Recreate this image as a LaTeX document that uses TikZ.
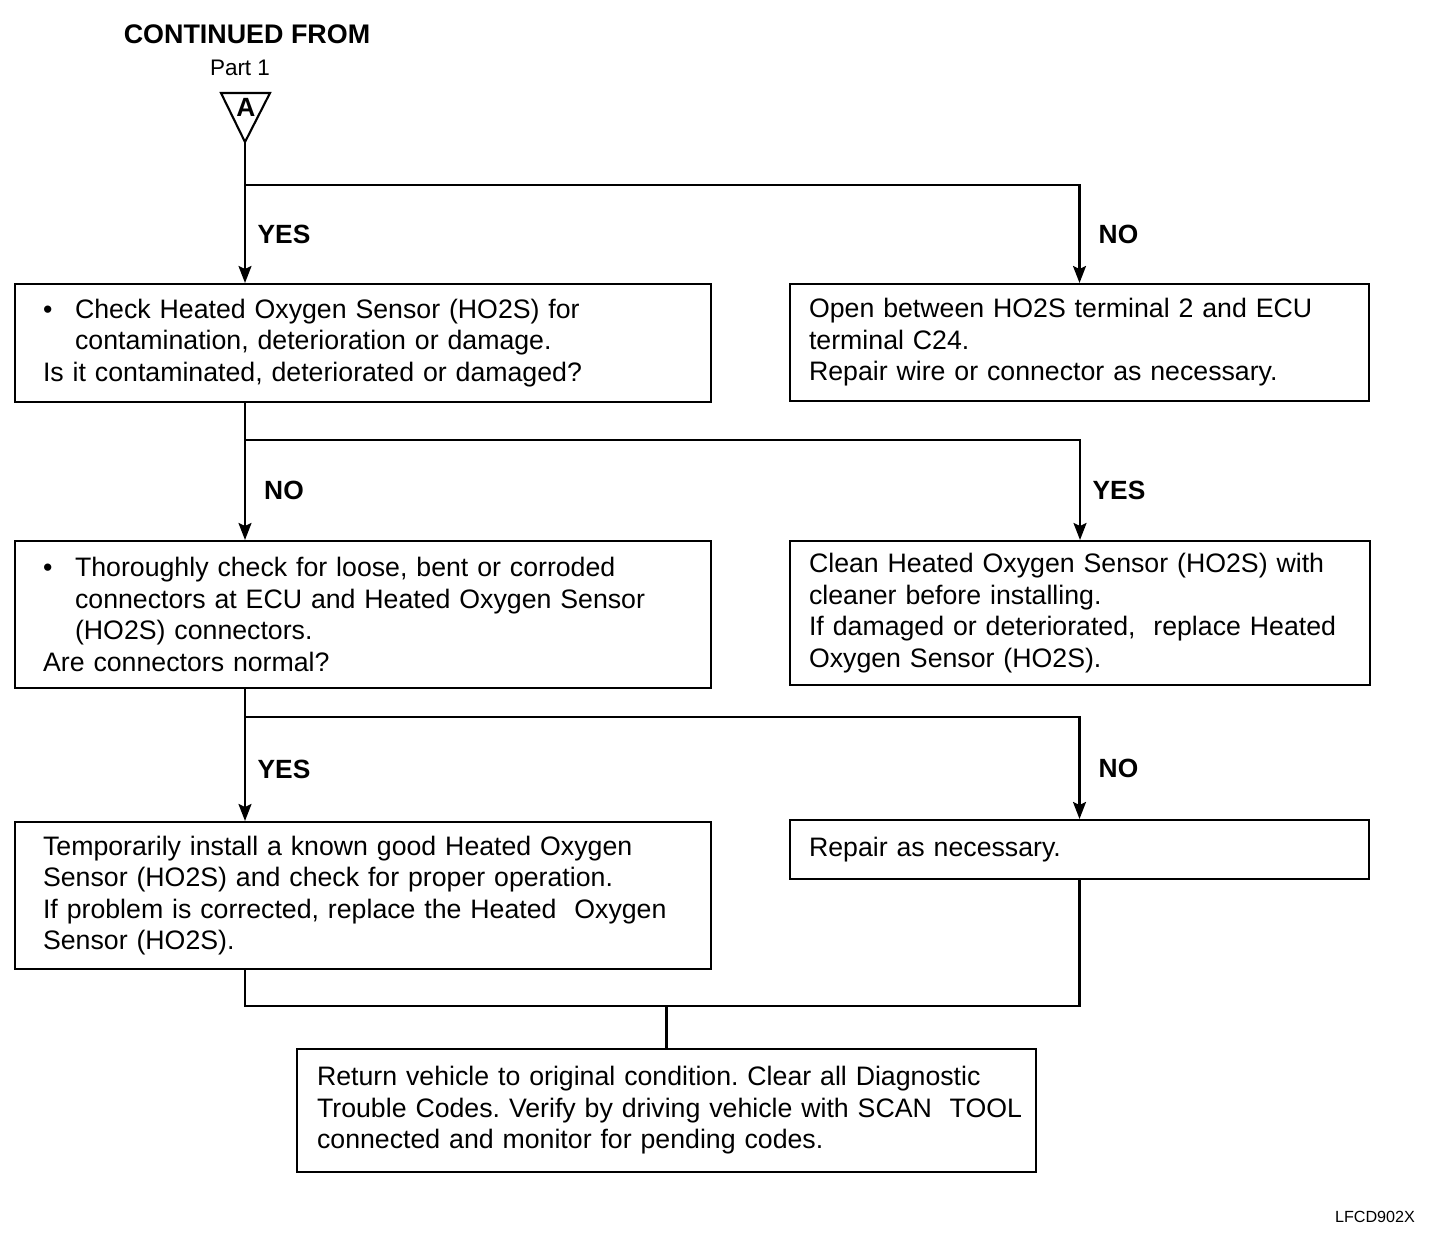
\documentclass[tikz,border=0pt]{standalone}
\usepackage{fontspec}
\setmainfont{Liberation Sans}
\usetikzlibrary{arrows.meta, positioning}

\newcommand{\bul}{\makebox[0.64cm][l]{\textbullet}}
\newcommand{\bulpar}[1]{{\noindent\hangindent=0.64cm\hangafter=1\bul#1\par}}

\begin{document}
\begin{tikzpicture}[x=0.02cm, y=-0.02cm, line width=1.2pt,
  arr/.style={-{Stealth[length=0.34cm, width=0.26cm, inset=0.06cm]}},
  box/.style={draw, align=left, inner ysep=0pt, font=\fontsize{15.2}{17.9}\selectfont\frenchspacing},
  leftbox/.style={box, text width=12.8cm, inner xsep=0.56cm},
  rightbox/.style={box, text width=10.82cm, inner xsep=0.38cm},
  lbl/.style={font=\bfseries\fontsize{15}{18}\selectfont, xshift=0.78cm}]
\useasboundingbox (0,0) rectangle (1456,1248);

\node[font=\bfseries\fontsize{15.3}{18}\selectfont] (title) at (247,34) {CONTINUED FROM};
\node[font=\fontsize{12.8}{15}\selectfont] (part) at (240,68) {Part 1};
\coordinate (apex) at (245,142);
\draw (221,93) -- (270,93) -- (apex) -- cycle;
\node[font=\bfseries\fontsize{15}{17}\selectfont, inner sep=0pt] (a) at (246,107) {A};

\node[leftbox, minimum height=2.36cm] (b1) at (363,343) {\bulpar{Check Heated Oxygen Sensor (HO2S) for\newline
  contamination, deterioration or damage.}
  Is it contaminated, deteriorated or damaged?};
\node[rightbox, minimum height=2.34cm] (b2) at (1079.5,342.5) {Open between HO2S terminal 2 and ECU\\
  terminal C24.\\
  Repair wire or connector as necessary.};
\node[leftbox, minimum height=2.94cm] (b3) at (363,614.5) {\bulpar{Thoroughly check for loose, bent or corroded\newline
  connectors at ECU and Heated Oxygen Sensor\newline
  (HO2S) connectors.}
  Are connectors normal?};
\node[rightbox, text width=10.84cm, minimum height=2.88cm] (b4) at (1080,613) {Clean Heated Oxygen Sensor (HO2S) with\\
  cleaner before installing.\\
  If damaged or deteriorated,\ \ replace Heated\\
  Oxygen Sensor (HO2S).};
\node[leftbox, minimum height=2.94cm] (b5) at (363,895.5) {Temporarily install a known good Heated Oxygen\\
  Sensor (HO2S) and check for proper operation.\\
  If problem is corrected, replace the Heated\ \ Oxygen\\
  Sensor (HO2S).};
\node[rightbox, minimum height=1.18cm] (b6) at (1079.5,849.5) {Repair as necessary.};
\node[box, text width=13.98cm, inner xsep=0.4cm, minimum height=2.46cm] (b7) at (666.5,1110.5) {Return vehicle to original condition. Clear all Diagnostic\\
  \makebox[\linewidth][l]{Trouble Codes. Verify by driving vehicle with SCAN\ \ TOOL}\\
  connected and monitor for pending codes.};

\node[font=\fontsize{9.2}{11}\selectfont] (code) at (1375,1217) {LFCD902X};

\coordinate (s1) at (245,185);
\coordinate (s2) at (245,440);
\coordinate (s3) at (245,717);
\coordinate (m) at (245,1006);

\draw (apex) -- (s1);
\draw[arr] (s1) -- node[lbl] {YES} (s1 |- b1.north);
\draw[arr] (s1) -| node[lbl, pos=0.75] {NO} (b2.north);

\draw (s2 |- b1.south) -- (s2);
\draw[arr] (s2) -- node[lbl] {NO} (s2 |- b3.north);
\draw[arr] (s2) -| node[lbl, pos=0.75] {YES} (b4.north);

\draw (s3 |- b3.south) -- (s3);
\draw[arr] (s3) -- node[lbl] {YES} (s3 |- b5.north);
\draw[arr] (s3) -| node[lbl, pos=0.75] {NO} (b6.north);

\draw (s3 |- b5.south) -- (m) -| (b6.south);
\draw (m -| b7.north) -- (b7.north);
\end{tikzpicture}
\end{document}
